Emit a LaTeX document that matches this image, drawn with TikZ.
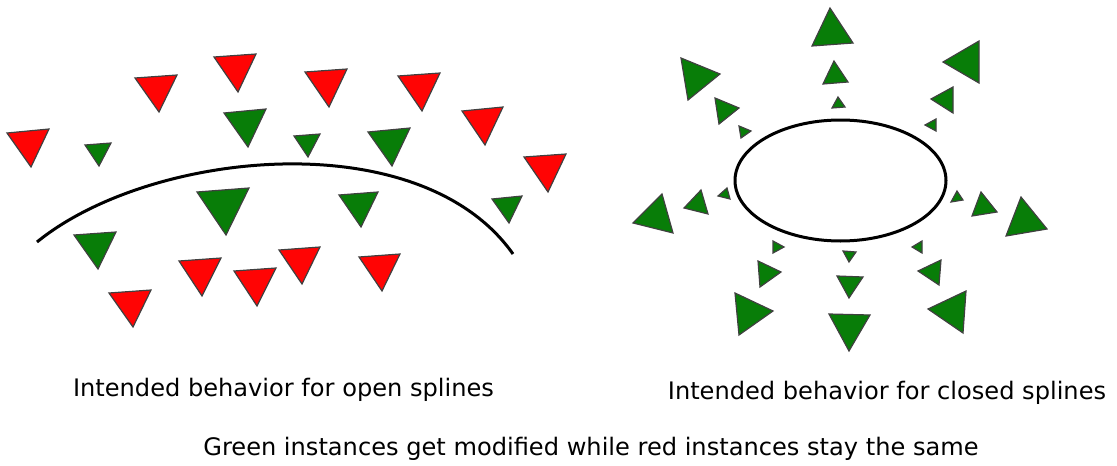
\documentclass[tikz,border=0pt]{standalone}
\usepackage{fontspec}
\setmainfont{DejaVu Sans}
\definecolor{instgreen}{RGB}{8,125,8}
\definecolor{instred}{RGB}{255,4,4}
\begin{document}
\begin{tikzpicture}[x=1pt,y=-1pt,
  tri/.style={draw=black!75,line width=1.2pt,line join=miter},
  gtri/.style={tri,fill=instgreen},
  rtri/.style={tri,fill=instred},
  curve/.style={draw=black,line width=3pt},
  label/.style={font=\fontsize{24.1}{28}\selectfont,anchor=base,inner sep=0pt}]
\useasboundingbox (0,0) rectangle (1117,466);
% ---------- open spline ----------
\draw[curve] (37,242) .. controls (150,150) and (420,122) .. (513,254);
% red (unchanged)
\draw[rtri] (7,133) -- (49,129) -- (31,167) -- cycle;
\draw[rtri] (135,78) -- (177,75) -- (159,112) -- cycle;
\draw[rtri] (214,57) -- (256,54) -- (238,92) -- cycle;
\draw[rtri] (305,72) -- (347,69) -- (329,107) -- cycle;
\draw[rtri] (398,76) -- (440,73) -- (422,111) -- cycle;
\draw[rtri] (462,111) -- (503,107) -- (485,145) -- cycle;
\draw[rtri] (524,157) -- (566,154) -- (548,192) -- cycle;
\draw[rtri] (109,293) -- (151,290) -- (133,327) -- cycle;
\draw[rtri] (179,261) -- (221,258) -- (202,296) -- cycle;
\draw[rtri] (234,271) -- (276,268) -- (257,306) -- cycle;
\draw[rtri] (279,250) -- (320,247) -- (302,284) -- cycle;
\draw[rtri] (359,257) -- (400,254) -- (382,291) -- cycle;
% green (modified)
\draw[gtri] (85,145) -- (111,143) -- (99,166) -- cycle;
\draw[gtri] (224,113) -- (266,109) -- (248,147) -- cycle;
\draw[gtri] (294,136) -- (320,134) -- (308,157) -- cycle;
\draw[gtri] (368,132) -- (410,128) -- (392,166) -- cycle;
\draw[gtri] (74,235) -- (116,232) -- (98,269) -- cycle;
\draw[gtri] (197,192) -- (249,188) -- (226,235) -- cycle;
\draw[gtri] (339,195) -- (378,192) -- (361,227) -- cycle;
\draw[gtri] (492,199) -- (522,196) -- (509,223) -- cycle;
% ---------- closed spline ----------
\draw[curve] (840.5,180.5) ellipse [x radius=105.5,y radius=60.5];
% top
\draw[gtri] (830,8) -- (812,46) -- (853,43) -- cycle;
\draw[gtri] (834,61) -- (823,84) -- (848,82) -- cycle;
\draw[gtri] (838,97) -- (832,108) -- (845,107) -- cycle;
% upper left
\draw[gtri] (681,58) -- (720,74) -- (688,100) -- cycle;
\draw[gtri] (715,98) -- (739,108) -- (719,124) -- cycle;
\draw[gtri] (739,126) -- (751,131) -- (741,138) -- cycle;
% upper right
\draw[gtri] (979,41) -- (943,62) -- (979,83) -- cycle;
\draw[gtri] (953,87) -- (931,99) -- (953,113) -- cycle;
\draw[gtri] (936,119) -- (925,125) -- (936,131) -- cycle;
% left
\draw[gtri] (662,194) -- (633,223) -- (673,233) -- cycle;
\draw[gtri] (701,190) -- (684,208) -- (708,214) -- cycle;
\draw[gtri] (727,188) -- (718,196) -- (730,199) -- cycle;
% right
\draw[gtri] (957,191) -- (951,202) -- (963,200) -- cycle;
\draw[gtri] (981,192) -- (972,216) -- (997,212) -- cycle;
\draw[gtri] (1021,197) -- (1006,236) -- (1047,229) -- cycle;
% lower left
\draw[gtri] (773,241) -- (784,247) -- (773,253) -- cycle;
\draw[gtri] (758,261) -- (781,272) -- (760,287) -- cycle;
\draw[gtri] (735,293) -- (773,311) -- (739,335) -- cycle;
% bottom
\draw[gtri] (843,251) -- (856,252) -- (849,262) -- cycle;
\draw[gtri] (837,276) -- (863,277) -- (849,298) -- cycle;
\draw[gtri] (829,314) -- (870,315) -- (849,351) -- cycle;
% lower right
\draw[gtri] (922,241) -- (912,247) -- (922,253) -- cycle;
\draw[gtri] (941,260) -- (918,271) -- (939,285) -- cycle;
\draw[gtri] (966,291) -- (928,309) -- (963,333) -- cycle;
% ---------- labels ----------
\node[label] (openlbl) at (283.5,396) {Intended behavior for open splines};
\node[label] (closedlbl) at (887,399) {Intended behavior for closed splines};
\node[label] (caption) at (591,455) {Green instances get modified while red instances stay the same};
\end{tikzpicture}
\end{document}
